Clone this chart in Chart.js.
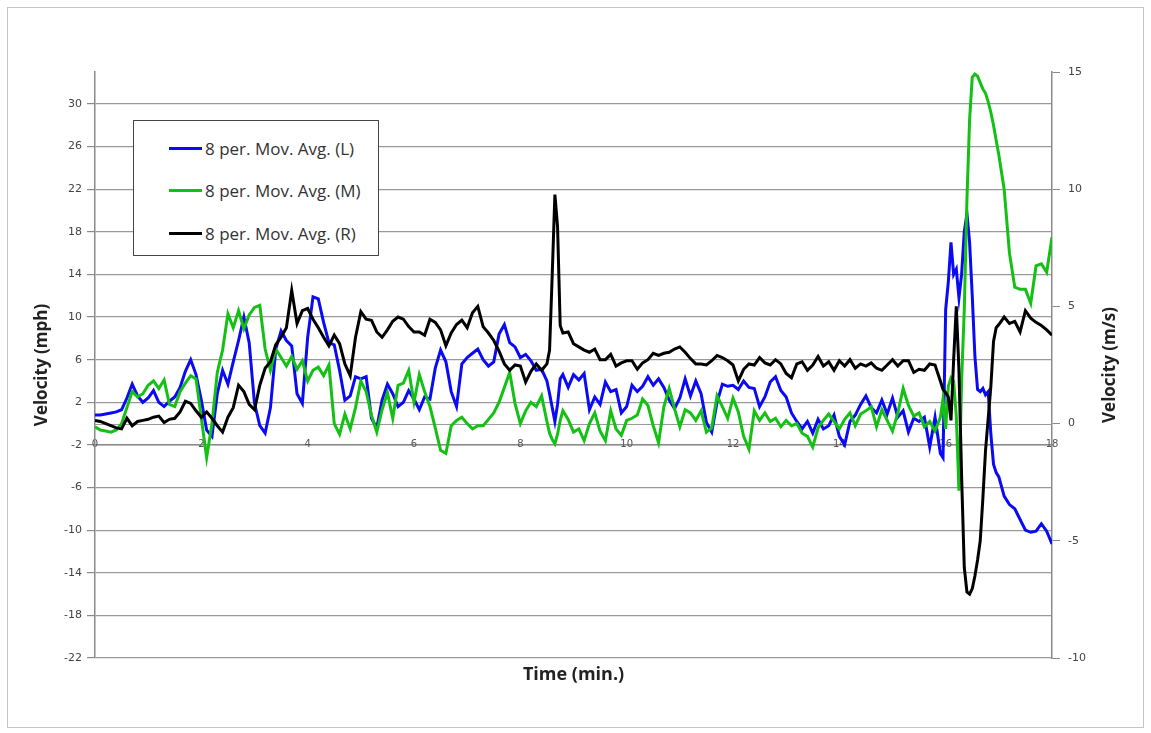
<!DOCTYPE html>
<html>
<head>
<meta charset="utf-8">
<script src="https://cdn.jsdelivr.net/npm/chart.js@4.4.1/dist/chart.umd.min.js"></script>
<style>
  html, body { margin: 0; padding: 0; background: #fff; }
  #wrap { position: relative; width: 1151px; height: 733px; }
  #frame { position: absolute; left: 7px; top: 7px; width: 1137px; height: 721px; border: 1px solid #c4c4c4; box-sizing: border-box; }
  #chart { position: absolute; left: 0; top: 0; }
  #legend { position: absolute; left: 133px; top: 120px; width: 246px; height: 136px; border: 1.5px solid #444; background: #fff; box-sizing: border-box;
            font-family: 'Open Sans', sans-serif; font-size: 17px; color: #333; }
  .item { position: absolute; left: 35px; height: 22px; display: flex; align-items: center; white-space: nowrap; }
  .swatch { width: 33px; height: 3px; margin-right: 3px; }
</style>
</head>
<body>
<div id="wrap">
  <div id="frame"></div>
  <canvas id="chart" width="1151" height="733"></canvas>
  <div id="legend"></div>
</div>
<script>
// time in minutes (denser around the spikes)
const times = [
  0, 0.1, 0.2, 0.3, 0.4, 0.5, 0.6, 0.7, 0.8, 0.9,
  1, 1.1, 1.2, 1.3, 1.4, 1.5, 1.6, 1.7, 1.8, 1.9,
  2, 2.1, 2.2, 2.3, 2.4, 2.5, 2.6, 2.7, 2.8, 2.9,
  3, 3.1, 3.2, 3.3, 3.4, 3.5, 3.6, 3.7, 3.8, 3.9,
  4, 4.1, 4.2, 4.3, 4.4, 4.5, 4.6, 4.7, 4.8, 4.9,
  5, 5.1, 5.2, 5.3, 5.4, 5.5, 5.6, 5.7, 5.8, 5.9,
  6, 6.1, 6.2, 6.3, 6.4, 6.5, 6.6, 6.7, 6.8, 6.9,
  7, 7.1, 7.2, 7.3, 7.4, 7.5, 7.6, 7.7, 7.8, 7.9,
  8, 8.1, 8.2, 8.3, 8.4, 8.5, 8.55, 8.6, 8.65, 8.7, 8.75, 8.8, 8.9,
  9, 9.1, 9.2, 9.3, 9.4, 9.5, 9.6, 9.7, 9.8, 9.9,
  10, 10.1, 10.2, 10.3, 10.4, 10.5, 10.6, 10.7, 10.8, 10.9,
  11, 11.1, 11.2, 11.3, 11.4, 11.5, 11.6, 11.7, 11.8, 11.9,
  12, 12.1, 12.2, 12.3, 12.4, 12.5, 12.6, 12.7, 12.8, 12.9,
  13, 13.1, 13.2, 13.3, 13.4, 13.5, 13.6, 13.7, 13.8, 13.9,
  14, 14.1, 14.2, 14.3, 14.4, 14.5, 14.6, 14.7, 14.8, 14.9,
  15, 15.1, 15.2, 15.3, 15.4, 15.5, 15.6, 15.7, 15.8, 15.9, 15.95,
  16, 16.05, 16.1, 16.15, 16.2, 16.25, 16.3, 16.35, 16.4, 16.45, 16.5, 16.55, 16.6, 16.65, 16.7, 16.75, 16.8, 16.85, 16.9, 16.95,
  17, 17.1, 17.2, 17.3, 17.4, 17.5, 17.6, 17.7, 17.8, 17.9,
  18
];

// mph, 8 period moving average
const avgL = [
  0.8, 0.8, 0.9, 1.0, 1.1, 1.3, 2.4, 3.7, 2.6, 2.0,
  2.4, 3.1, 2.0, 1.6, 2.1, 2.5, 3.4, 4.9, 6.0, 4.6,
  2.2, -0.6, -1.2, 2.8, 5.0, 3.7, 5.8, 7.8, 10.0, 7.6,
  1.9, -0.2, -0.9, 1.5, 7.0, 8.7, 7.8, 7.3, 2.8, 1.9,
  8.1, 11.9, 11.7, 9.5, 7.6, 7.4, 5.0, 2.2, 2.6, 4.4,
  4.2, 4.4, 0.5, -0.4, 2.2, 3.7, 2.8, 1.6, 2.0, 3.1,
  2.3, 1.3, 2.5, 2.3, 5.2, 6.9, 5.8, 3.0, 1.6, 5.6,
  6.2, 6.6, 7.0, 6.0, 5.4, 5.8, 8.4, 9.3, 7.6, 7.2,
  6.2, 6.5, 5.9, 5.0, 5.1, 4.0, 2.8, 1.5, 0.2, 1.8, 4.2, 4.6, 3.4,
  4.6, 4.1, 4.7, 1.3, 2.5, 1.8, 3.9, 3.0, 3.2, 1.0,
  1.6, 3.6, 3.0, 3.5, 4.4, 3.6, 4.2, 3.4, 2.2, 1.4,
  2.4, 4.2, 2.6, 4.0, 2.8, 0.1, -0.8, 2.0, 3.7, 3.5,
  3.6, 3.2, 4.0, 3.4, 3.3, 1.6, 2.5, 3.9, 4.4, 3.1,
  2.5, 1.0, 0.2, -0.5, 0.2, -0.9, 0.4, -0.5, -0.2, 0.8,
  -1.2, -2.0, 0.2, 0.8, 1.8, 2.6, 1.5, 1.0, 2.2, 0.9,
  2.4, 0.6, 1.2, -0.8, 0.5, 0.2, 0.6, -2.2, 0.6, -2.8, -3.2,
  10.7, 13.3, 17.0, 14.0, 14.5, 11.8, 14.0, 18.0, 19.7, 17.0, 12.0, 6.3, 3.2, 3.0, 3.3, 2.7, 3.0, -1.0, -3.8, -4.6,
  -5.0, -6.8, -7.6, -8.0, -9.0, -10.0, -10.2, -10.1, -9.4, -10.1,
  -11.3
];

const avgM = [
  -0.3, -0.6, -0.7, -0.8, -0.6, 0.0, 1.5, 3.0, 2.5, 2.8,
  3.6, 4.0, 3.3, 4.1, 1.8, 1.6, 3.0, 3.8, 4.5, 4.2,
  0.5, -3.2, 0.0, 4.8, 6.9, 10.3, 9.0, 10.6, 8.9, 10.2,
  10.9, 11.1, 7.0, 5.0, 7.0, 6.2, 5.4, 6.3, 5.1, 5.9,
  4.0, 5.0, 5.3, 4.5, 5.5, 0.0, -1.0, 0.9, -0.5, 1.5,
  4.0, 3.0, 0.8, -0.8, 1.3, 2.9, 0.5, 3.6, 3.8, 5.0,
  2.0, 4.6, 3.0, 1.6, -0.4, -2.5, -2.8, -0.2, 0.3, 0.6,
  0.0, -0.5, -0.2, -0.2, 0.4, 1.0, 2.0, 3.4, 4.8, 1.9,
  0.0, 1.2, 2.0, 1.6, 2.6, 0.2, -0.9, -1.5, -1.9, -1.0, 0.3, 1.2, 0.4,
  -0.8, -0.5, -1.6, 0.0, 1.0, -0.7, -1.6, 1.2, -0.5, -1.1,
  0.3, 0.5, 0.8, 2.3, 1.7, -0.2, -1.8, 1.6, 3.3, 1.4,
  -0.3, 1.3, 1.0, 0.3, 1.2, -0.8, -0.4, 2.6, 1.6, 0.5,
  2.4, 1.1, -1.2, -2.4, 1.2, 0.3, 1.0, 0.2, 0.5, -0.3,
  0.3, -0.2, 0.0, -0.9, -1.2, -2.2, -0.4, 0.3, 0.9, 0.2,
  -0.5, 0.4, 1.0, -0.2, 0.9, 1.2, 1.6, -0.3, 1.3, 0.3,
  -0.7, 1.0, 3.3, 1.7, 0.7, 1.0, -0.3, 0.2, -0.7, 0.6, 2.3,
  -0.5, 3.5, 4.3, 4.0, 0.7, -6.3, 4.0, 10.7, 21.0, 28.5, 32.5, 32.8, 32.6, 32.0, 31.4, 31.0, 30.2, 29.2, 28.0, 26.6,
  25.2, 22.0, 16.0, 12.8, 12.6, 12.6, 11.3, 14.8, 15.0, 14.2,
  17.5
];

const avgR = [
  0.3, 0.2, 0.0, -0.2, -0.4, -0.5, 0.5, -0.2, 0.2, 0.3,
  0.4, 0.6, 0.7, 0.1, 0.4, 0.5, 1.1, 2.1, 1.9, 1.2,
  0.6, 1.1, 0.5, -0.2, -0.8, 0.6, 1.5, 3.6, 3.0, 1.8,
  1.3, 3.6, 5.2, 5.8, 7.4, 8.1, 9.0, 12.5, 9.4, 10.6,
  10.8, 9.8, 9.0, 8.1, 7.3, 8.3, 7.5, 5.6, 4.5, 8.1,
  10.5, 9.8, 9.7, 8.6, 8.1, 8.8, 9.6, 10.0, 9.8, 9.1,
  8.6, 8.6, 8.3, 9.8, 9.5, 8.8, 7.3, 8.5, 9.3, 9.7,
  9.0, 10.4, 11.0, 9.1, 8.5, 7.8, 6.8, 5.6, 5.0, 5.5,
  5.4, 3.9, 4.9, 5.6, 5.0, 5.6, 6.9, 14.0, 21.5, 18.5, 9.2, 8.5, 8.6,
  7.5, 7.2, 6.9, 6.7, 7.0, 6.0, 6.0, 6.5, 5.4, 5.7,
  5.9, 5.9, 5.1, 5.7, 6.0, 6.6, 6.4, 6.6, 6.7, 7.0,
  7.2, 6.7, 6.1, 5.6, 5.6, 5.5, 5.9, 6.4, 6.2, 5.9,
  5.5, 4.0, 5.1, 5.6, 5.5, 6.2, 5.7, 5.5, 6.0, 5.6,
  4.7, 4.3, 5.6, 5.8, 5.0, 5.5, 6.3, 5.4, 5.8, 5.0,
  5.9, 5.4, 6.0, 5.2, 5.6, 5.4, 5.7, 5.2, 5.0, 5.5,
  6.0, 5.4, 5.9, 5.9, 4.8, 5.1, 5.0, 5.6, 5.5, 4.0, 3.2,
  2.9, 2.5, 0.3, 6.0, 11.0, 5.0, -5.0, -13.5, -15.8, -16.0, -15.5, -14.3, -12.8, -11.0, -7.0, -2.5, 0.5, 3.5, 7.7, 9.0,
  9.3, 10.0, 9.4, 9.6, 8.6, 10.6, 9.9, 9.5, 9.2, 8.8,
  8.3
];

const seriesNames = ['8 per. Mov. Avg. (L)', '8 per. Mov. Avg. (M)', '8 per. Mov. Avg. (R)'];
const seriesColors = ['#0a0af5', '#14c014', '#000000'];
const mphTicks = [-22, -18, -14, -10, -6, -2, 2, 6, 10, 14, 18, 22, 26, 30];

const xTitle = 'Time (min.)';
const yTitle = 'Velocity (mph)';
const y2Title = 'Velocity (m/s)';

function toPoints(vals) {
  return times.map((t, i) => ({ x: t, y: vals[i] }));
}

const extraTitles = {
  id: 'extraTitles',
  // zero line of the m/s axis, behind the data
  beforeDatasetsDraw(chart) {
    const { ctx, chartArea, scales } = chart;
    const y0 = Math.round(scales.y2.getPixelForValue(0)) + 0.5;
    ctx.save();
    ctx.strokeStyle = '#9a9a9a';
    ctx.lineWidth = 1.2;
    ctx.beginPath();
    ctx.moveTo(chartArea.left, y0);
    ctx.lineTo(chartArea.right, y0);
    ctx.stroke();
    ctx.restore();
  },
  // right title reads bottom-to-top like the left one, time title under the plot
  afterDraw(chart) {
    const { ctx, chartArea } = chart;
    ctx.save();
    ctx.fillStyle = '#222';
    ctx.textAlign = 'center';
    ctx.textBaseline = 'middle';
    ctx.font = 'bold 18px "Open Sans", sans-serif';
    ctx.fillText(xTitle, (chartArea.left + chartArea.right) / 2, chartArea.bottom + 17);
    ctx.font = 'bold 17px "Open Sans", sans-serif';
    ctx.translate(chartArea.right + 58, (chartArea.top + chartArea.bottom) / 2);
    ctx.rotate(-Math.PI / 2);
    ctx.fillText(y2Title, 0, 0);
    ctx.restore();
  }
};

const datasets = [avgL, avgM, avgR].map((vals, i) => ({
  label: seriesNames[i],
  data: toPoints(vals),
  borderColor: seriesColors[i],
  backgroundColor: seriesColors[i],
  borderWidth: 3,
  pointRadius: 0,
  tension: 0,
  order: 2 - i   // black on top
}));

const chart = new Chart(document.getElementById('chart'), {
  type: 'line',
  data: { datasets },
  options: {
    responsive: false,
    animation: false,
    layout: { padding: { top: 72, bottom: 75, left: 0, right: 0 } },
    plugins: {
      legend: { display: false },
      tooltip: { enabled: false }
    },
    scales: {
      x: {
        type: 'linear',
        position: { y: -2 },
        min: 0,
        max: 18,
        grid: { display: false, drawTicks: false },
        border: { color: '#8a8a8a', width: 1.5 },
        ticks: { stepSize: 2, maxRotation: 0, padding: -7, color: '#555', font: { size: 10, family: 'DejaVu Sans' } }
      },
      y: {
        position: 'left',
        min: -22,
        max: 33,
        afterBuildTicks: s => { s.ticks = mphTicks.map(v => ({ value: v })); },
        afterFit: s => { s.width = 95; },
        grid: { color: '#9a9a9a', lineWidth: 1.2, tickLength: 8, tickColor: '#8a8a8a' },
        border: { color: '#8a8a8a', width: 1.5 },
        ticks: { padding: 5, color: '#444', font: { size: 11, family: 'DejaVu Sans' } },
        title: { display: true, text: yTitle, color: '#222', padding: { top: 32, bottom: 0 },
                 font: { size: 17, weight: 'bold', family: 'Open Sans' } }
      },
      y2: {
        position: 'right',
        min: -10,
        max: 15,
        afterFit: s => { s.width = 99; },
        grid: { drawOnChartArea: false, tickLength: 8, tickColor: '#8a8a8a' },
        border: { color: '#8a8a8a', width: 1.5 },
        ticks: { stepSize: 5, padding: 8, color: '#444', font: { size: 11, family: 'DejaVu Sans' } }
      }
    }
  },
  plugins: [extraTitles]
});

// legend box inside the plot, as in the original
const legend = document.getElementById('legend');
const itemTops = [16, 58, 101];
chart.data.datasets.forEach((ds, i) => {
  const item = document.createElement('div');
  item.className = 'item';
  item.style.top = itemTops[i] + 'px';
  item.innerHTML = `<span class="swatch" style="background:${ds.borderColor}"></span><span>${ds.label}</span>`;
  legend.appendChild(item);
});
</script>
</body>
</html>
